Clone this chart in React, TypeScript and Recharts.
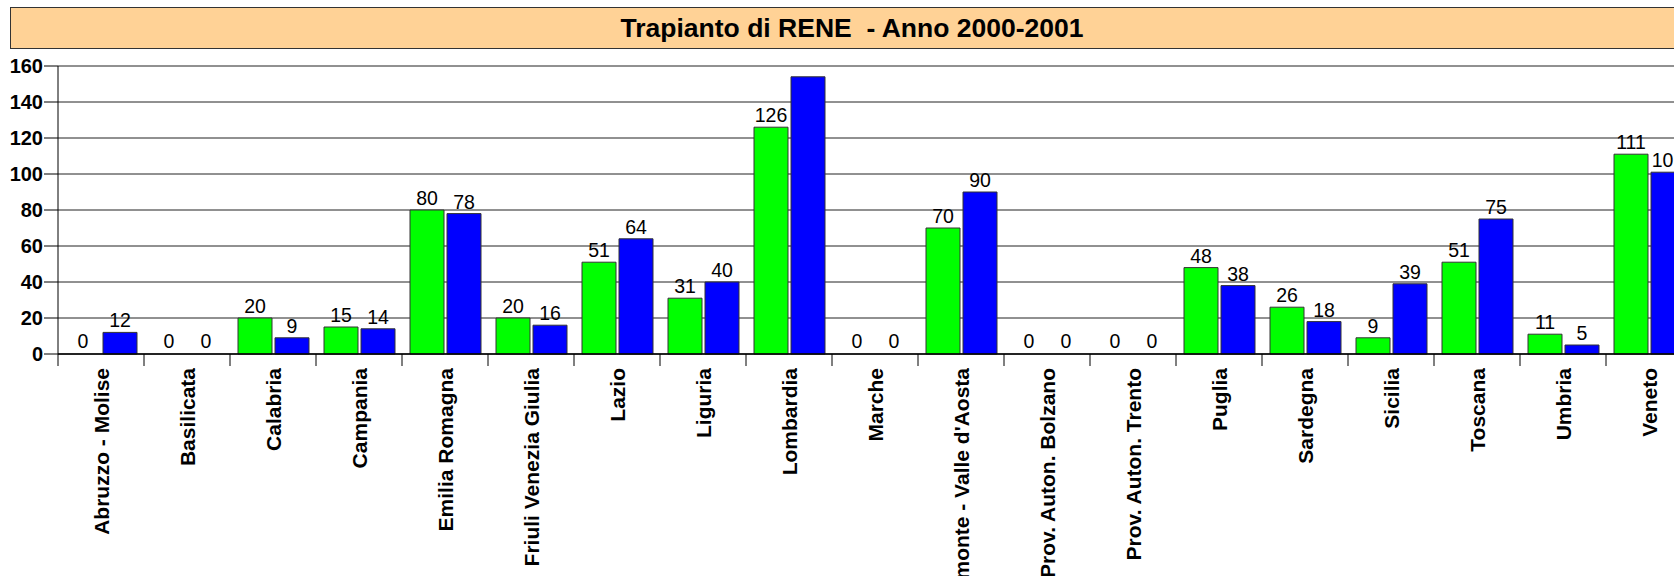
import { Bar, BarChart, CartesianGrid, LabelList, Rectangle, XAxis, YAxis } from "recharts";

const REGIONS = [
  "Abruzzo - Molise",
  "Basilicata",
  "Calabria",
  "Campania",
  "Emilia Romagna",
  "Friuli Venezia Giulia",
  "Lazio",
  "Liguria",
  "Lombardia",
  "Marche",
  "Piemonte - Valle d'Aosta",
  "Prov. Auton. Bolzano",
  "Prov. Auton. Trento",
  "Puglia",
  "Sardegna",
  "Sicilia",
  "Toscana",
  "Umbria",
  "Veneto"
];
const ANNO_2000 = [0, 0, 20, 15, 80, 20, 51, 31, 126, 0, 70, 0, 0, 48, 26, 9, 51, 11, 111];
const ANNO_2001 = [12, 0, 9, 14, 78, 16, 64, 40, 154, 0, 90, 0, 0, 38, 18, 39, 75, 5, 101];
const Y_TICKS = [0, 20, 40, 60, 80, 100, 120, 140, 160];
const LABEL_MAX = 150;

const FONT = "'Liberation Sans', Arial, sans-serif";
const CHART_W = 1710;
const CHART_H = 700;
const MARGIN = { top: 66, right: 18, bottom: 0, left: 0 };
const Y_AXIS_W = 58;
const BAND = (CHART_W - MARGIN.left - MARGIN.right - Y_AXIS_W) / REGIONS.length;

const data = REGIONS.map((name, i) => ({ name, a2000: ANNO_2000[i], a2001: ANNO_2001[i] }));

function RegionTick(props: any) {
  const { x, y, payload, index } = props;
  const last = index === REGIONS.length - 1;
  return (
    <g>
      <line x1={x - BAND / 2} y1={y} x2={x - BAND / 2} y2={y + 12} stroke="#000" />
      {last && <line x1={x + BAND / 2} y1={y} x2={x + BAND / 2} y2={y + 12} stroke="#000" />}
      <text
        transform={`translate(${x},${y + 14}) rotate(-90)`}
        textAnchor="end"
        dy="0.36em"
        fontFamily={FONT}
        fontWeight="bold"
        fontSize={21}
        fill="#000"
      >
        {payload.value}
      </text>
    </g>
  );
}

function ValueLabel(props: any) {
  const { x, y, width, value } = props;
  if (value > LABEL_MAX) return null;
  return (
    <text x={x + width / 2} y={y - 5} textAnchor="middle" fontFamily={FONT} fontSize={19.5} fill="#000">
      {value}
    </text>
  );
}

// zero values get a 1px placeholder bar (so their "0" label is kept) but it is not drawn
const barShape = (key: "a2000" | "a2001") => (p: any) =>
  p.payload && p.payload[key] === 0 ? <g /> : <Rectangle {...p} />;

export default function App() {
  return (
    <div style={{ position: "relative", width: 1674, height: 576, overflow: "hidden", background: "#fff" }}>
      <style>{"body{margin:0}"}</style>
      <div
        style={{
          position: "absolute",
          left: 10,
          top: 7,
          width: 1684,
          height: 42,
          boxSizing: "border-box",
          border: "1px solid #333",
          background: "#FFD296",
          fontFamily: FONT,
          fontWeight: "bold",
          fontSize: 26.5,
          lineHeight: "40px",
          textAlign: "center",
          whiteSpace: "pre",
          zIndex: 1
        }}
      >
        {"Trapianto di RENE  - Anno 2000-2001"}
      </div>
      <BarChart
        width={CHART_W}
        height={CHART_H}
        data={data}
        margin={MARGIN}
        barCategoryGap={8}
        barGap={3}
      >
        <CartesianGrid vertical={false} stroke="#222" />
        <XAxis
          dataKey="name"
          interval={0}
          height={CHART_H - 354}
          tickLine={false}
          tickSize={0}
          tickMargin={0}
          axisLine={{ stroke: "#000", strokeWidth: 1.5 }}
          tick={<RegionTick />}
        />
        <YAxis
          width={Y_AXIS_W}
          domain={[0, 160]}
          ticks={Y_TICKS}
          interval={0}
          tickSize={14}
          tickMargin={1}
          axisLine={{ stroke: "#000" }}
          tickLine={{ stroke: "#000" }}
          tick={{ fill: "#000", fontFamily: FONT, fontWeight: "bold", fontSize: 20 }}
        />
        <Bar
          dataKey="a2000"
          fill="#00FF00"
          stroke="#333"
          strokeWidth={1}
          minPointSize={1}
          shape={barShape("a2000")}
          isAnimationActive={false}
        >
          <LabelList dataKey="a2000" content={<ValueLabel />} />
        </Bar>
        <Bar
          dataKey="a2001"
          fill="#0000FF"
          stroke="#333"
          strokeWidth={1}
          minPointSize={1}
          shape={barShape("a2001")}
          isAnimationActive={false}
        >
          <LabelList dataKey="a2001" content={<ValueLabel />} />
        </Bar>
      </BarChart>
    </div>
  );
}
